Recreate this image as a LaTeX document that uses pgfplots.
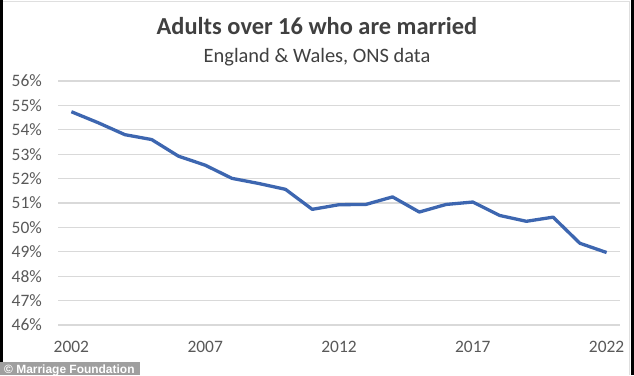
\documentclass[border=0pt]{standalone}
\usepackage{pgfplots}
\pgfplotsset{compat=1.18}
\usepackage{fontspec}
\setmainfont{Carlito}
\newfontfamily\wmfont{Liberation Sans}
\definecolor{lineblue}{RGB}{61,102,176}
\definecolor{ticktext}{RGB}{89,89,89}
\definecolor{titletext}{RGB}{64,64,64}
\definecolor{gridc}{RGB}{217,217,217}
\begin{document}
\begin{tikzpicture}[x=1bp,y=1bp]
\fill[white] (0,0) rectangle (634,375);
\draw[gray!25, line width=1bp] (3,373) -- (629,373) -- (629,0);
\fill[black] (0,0) rectangle (3,375);
\fill[black] (631,0) rectangle (634,375);
\begin{axis}[
  at={(58bp,50bp)}, anchor=south west,
  scale only axis, width=562bp, height=244bp,
  xmin=2001.5, xmax=2022.5, ymin=46, ymax=56,
  xtick={2002,2007,2012,2017,2022},
  ytick={46,47,48,49,50,51,52,53,54,55,56},
  yticklabel={\pgfmathprintnumber{\tick}\%},
  /pgf/number format/assume math mode=true,
  /pgf/number format/1000 sep={},
  axis line style={draw=none},
  major tick style={draw=none},
  ymajorgrids,
  grid style={draw=gridc, line width=1.2bp},
  tick label style={font=\fontsize{17.5}{20}\selectfont, text=ticktext},
  y tick label style={inner sep=0pt, xshift=-16bp, anchor=east},
  x tick label style={inner sep=0pt, yshift=-16bp, anchor=north},
  clip=false,
]
\addplot[lineblue, line width=3.3bp, line join=round] coordinates {
(2002,54.74) (2003,54.29) (2004,53.80) (2005,53.60) (2006,52.92)
(2007,52.55) (2008,52.01) (2009,51.80) (2010,51.56) (2011,50.74)
(2012,50.93) (2013,50.94) (2014,51.25) (2015,50.63) (2016,50.94)
(2017,51.04) (2018,50.49) (2019,50.25) (2020,50.42) (2021,49.35)
(2022,48.97)
};
\end{axis}
\node[anchor=base, text=titletext, font=\fontsize{24.5}{28}\selectfont\bfseries] at (317,340) {Adults over 16 who are married};
\node[anchor=base, text=titletext, font=\fontsize{20.5}{24}\selectfont] at (317,312) {England \& Wales, ONS data};
\fill[gray!75] (0,0) rectangle (140,13);
\node[anchor=base west, inner sep=0pt, text=white, font=\wmfont\bfseries\fontsize{12}{13}\selectfont] at (4,2) {© Marriage Foundation};
\end{tikzpicture}
\end{document}
